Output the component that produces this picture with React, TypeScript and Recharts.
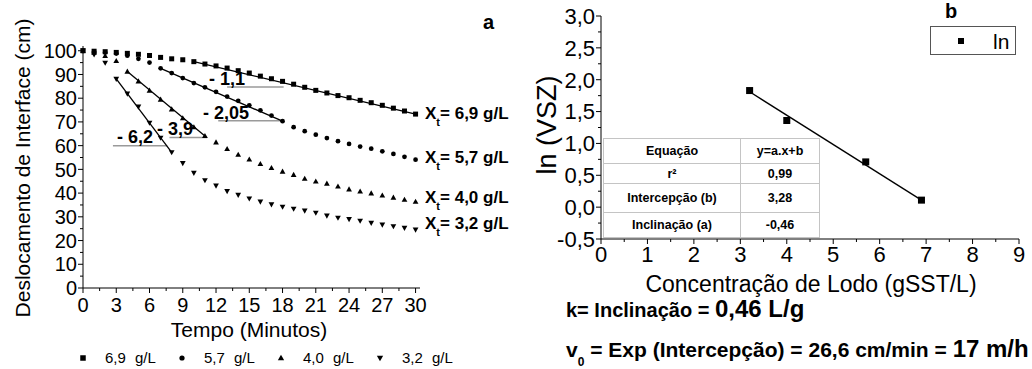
import React from "react";
import { ComposedChart, Scatter, Line, XAxis, YAxis, ReferenceLine } from "recharts";

// ---- panel a: interface displacement (cm) vs time (min)
const minutes = [0, 1, 2, 3, 4, 5, 6, 7, 8, 9, 10, 11, 12, 13, 14, 15, 16, 17, 18, 19, 20, 21, 22, 23, 24, 25, 26, 27, 28, 29, 30];
const disp69 = [100, 99.8, 99.6, 99.3, 98.9, 98.5, 98.0, 97.2, 96.6, 96.2, 95.4, 94.4, 93.6, 92.7, 91.6, 90.6, 89.3, 88.2, 87.1, 85.9, 84.6, 83.3, 82.2, 81.1, 80.2, 79.1, 78.1, 77.0, 75.8, 74.6, 73.3];
const disp57 = [100, 99.7, 99.3, 98.8, 97.9, 96.6, 95.0, 92.6, 90.6, 88.5, 86.4, 84.6, 82.7, 80.7, 78.9, 77.0, 74.9, 72.7, 70.3, 67.8, 66.1, 64.6, 63.2, 61.9, 60.7, 59.6, 58.7, 57.6, 56.5, 55.3, 54.1];
const disp40 = [100, 99.2, 97.8, 95.7, 91.2, 87.1, 83.2, 79.4, 75.3, 71.6, 67.8, 64.1, 61.4, 58.6, 56.2, 54.2, 52.3, 50.6, 49.1, 47.7, 46.1, 44.9, 44.0, 42.8, 41.6, 40.7, 39.9, 39.0, 38.1, 37.2, 36.4];
const disp32 = [100, 98.4, 94.9, 88.1, 81.9, 76.4, 69.6, 63.3, 57.2, 52.6, 48.5, 45.4, 43.1, 40.8, 39.2, 37.7, 36.4, 35.2, 34.2, 33.4, 32.6, 31.7, 30.5, 29.6, 29.0, 28.3, 27.4, 26.7, 26.0, 25.3, 24.6];

const seriesNames = ["6,9 g/L", "5,7 g/L", "4,0 g/L", "3,2 g/L"];
const seriesMarkers = ["square", "circle", "up", "down"];
// linear stretch of each curve (start / end minute)
const fitFrom = [10, 7, 4, 3];
const fitTo = [30, 18, 11, 8];
// slope annotations
const slopeLabels = ["- 1,1", "- 2,05", "- 3,9", "- 6,2"];
const slopeLineY = [84.7, 70.5, 63.4, 60];
const slopeLineFrom = [13, 12.2, 7.8, 2.7];
const slopeLineTo = [18.1, 17.9, 11.2, 7.6];

const ticksAx = [0, 1.5, 3, 4.5, 6, 7.5, 9, 10.5, 12, 13.5, 15, 16.5, 18, 19.5, 21, 22.5, 24, 25.5, 27, 28.5, 30];
const ticksAy = [0, 5, 10, 15, 20, 25, 30, 35, 40, 45, 50, 55, 60, 65, 70, 75, 80, 85, 90, 95, 100];

// ---- panel b: ln(VSZ) vs sludge concentration
const conc = [3.2, 4.0, 5.7, 6.9];
const lnVsz = [1.83, 1.36, 0.71, 0.11];
const fitConc = [3.2, 6.9];
const fitLn = [1.81, 0.11];
const ticksBx = [0, 0.5, 1, 1.5, 2, 2.5, 3, 3.5, 4, 4.5, 5, 5.5, 6, 6.5, 7, 7.5, 8, 8.5, 9];
const ticksBy = [-0.5, -0.25, 0, 0.25, 0.5, 0.75, 1, 1.25, 1.5, 1.75, 2, 2.25, 2.5, 2.75, 3];

const tableRows = [
  ["Equação", "y=a.x+b"],
  ["r²", "0,99"],
  ["Intercepção (b)", "3,28"],
  ["Inclinação (a)", "-0,46"],
];

const FONT = "'Liberation Sans', Arial, sans-serif";

const allDisp = [disp69, disp57, disp40, disp32];
const dataA = allDisp.map((s) => minutes.map((t, i) => ({ t, v: s[i] })));
const fitsA = allDisp.map((s, k) => [
  { t: fitFrom[k], v: s[minutes.indexOf(fitFrom[k])] },
  { t: fitTo[k], v: s[minutes.indexOf(fitTo[k])] },
]);
const dataB = conc.map((c, i) => ({ c, l: lnVsz[i] }));
const fitB = fitConc.map((c, i) => ({ c, l: fitLn[i] }));

function Marker({ kind, cx, cy, size = 5 }: { kind: string; cx: number; cy: number; size?: number }) {
  const h = size / 2;
  if (kind === "square") return <rect x={cx - h} y={cy - h} width={size} height={size} fill="#000" />;
  if (kind === "circle") return <circle cx={cx} cy={cy} r={h * 0.95} fill="#000" />;
  if (kind === "up")
    return <path d={`M${cx},${cy - h * 1.2}L${cx + h * 1.15},${cy + h * 0.85}L${cx - h * 1.15},${cy + h * 0.85}Z`} fill="#000" />;
  return <path d={`M${cx},${cy + h * 1.2}L${cx + h * 1.15},${cy - h * 0.85}L${cx - h * 1.15},${cy - h * 0.85}Z`} fill="#000" />;
}

const comma = (v: number, d: number) => v.toFixed(d).replace(".", ",");

function makeYTick(isMajor: (v: number) => boolean, fmt: (v: number) => string, fs: number) {
  return (p: any) => {
    const major = isMajor(p.payload.value);
    return (
      <g>
        <line x1={p.x - (major ? 5 : 3)} x2={p.x} y1={p.y} y2={p.y} stroke="#000" />
        {major && (
          <text x={p.x - 6} y={p.y} dy="0.36em" textAnchor="end" fontSize={fs} fontFamily={FONT} fill="#000">
            {fmt(p.payload.value)}
          </text>
        )}
      </g>
    );
  };
}

function makeXTick(isMajor: (v: number) => boolean, fmt: (v: number) => string, fs: number, gap: number) {
  return (p: any) => {
    const major = isMajor(p.payload.value);
    return (
      <g>
        <line x1={p.x} x2={p.x} y1={p.y} y2={p.y + (major ? 5 : 3)} stroke="#000" />
        {major && (
          <text x={p.x} y={p.y + gap} dy="0.8em" textAnchor="middle" fontSize={fs} fontFamily={FONT} fill="#000">
            {fmt(p.payload.value)}
          </text>
        )}
      </g>
    );
  };
}

const abs = (l: number, t: number, extra: React.CSSProperties = {}): React.CSSProperties => ({
  position: "absolute",
  left: l,
  top: t,
  whiteSpace: "nowrap",
  lineHeight: 1,
  ...extra,
});

export default function App() {
  const xLabelsY = [114, 158, 198, 224];
  const slopeLabelPos = [
    [209, 70],
    [203, 104],
    [157, 120],
    [117, 128],
  ];
  return (
    <div style={{ position: "absolute", left: 0, top: 0, width: 1032, height: 369, background: "#fff", fontFamily: FONT, color: "#000", overflow: "hidden" }}>
      {/* panel a */}
      <div style={{ position: "absolute", left: 0, top: 0 }}>
        <ComposedChart width={520} height={369} margin={{ top: 46, right: 100, bottom: 51, left: 23 }}>
          <XAxis
            type="number"
            dataKey="t"
            domain={[0, 30.4]}
            ticks={ticksAx}
            interval={0}
            tickSize={0}
            tickMargin={0}
            tickLine={false}
            axisLine={{ stroke: "#000" }}
            height={30}
            tick={makeXTick((v) => v % 3 === 0, (v) => String(v), 20, 8)}
          />
          <YAxis
            type="number"
            dataKey="v"
            domain={[0, 102]}
            ticks={ticksAy}
            interval={0}
            tickSize={0}
            tickMargin={0}
            tickLine={false}
            axisLine={{ stroke: "#000" }}
            width={60}
            tick={makeYTick((v) => v % 10 === 0, (v) => String(v), 20)}
          />
          {slopeLineY.map((y, k) => (
            <ReferenceLine
              key={"s" + k}
              segment={[
                { x: slopeLineFrom[k], y },
                { x: slopeLineTo[k], y },
              ]}
              stroke="#9a9a9a"
              strokeWidth={1.5}
            />
          ))}
          {fitsA.map((f, k) => (
            <Line key={"f" + k} data={f} dataKey="v" stroke="#000" strokeWidth={1.3} dot={false} isAnimationActive={false} />
          ))}
          {dataA.map((d, k) => (
            <Scatter
              key={"d" + k}
              name={seriesNames[k]}
              data={d}
              isAnimationActive={false}
              shape={(p: any) => <Marker kind={seriesMarkers[k]} cx={p.cx} cy={p.cy} size={5} />}
            />
          ))}
        </ComposedChart>
      </div>

      <div style={abs(483, 12, { fontWeight: "bold", fontSize: 20 })}>a</div>
      {seriesNames.map((n, k) => (
        <div key={"xl" + k} style={abs(425, xLabelsY[k] - 9, { fontWeight: "bold", fontSize: 17 })}>
          X<sub style={{ fontSize: 11, verticalAlign: -7 }}>t</sub>= {n}
        </div>
      ))}
      {slopeLabels.map((s, k) => (
        <div key={"sl" + k} style={abs(slopeLabelPos[k][0], slopeLabelPos[k][1], { fontWeight: "bold", fontSize: 18 })}>
          {s}
        </div>
      ))}
      <div style={abs(22, 168, { fontSize: 21, transform: "translate(-50%, -50%) rotate(-90deg)" })}>
        Deslocamento de Interface (cm)
      </div>
      <div style={abs(249, 329, { fontSize: 21, transform: "translate(-50%, -50%)" })}>Tempo (Minutos)</div>
      {seriesNames.map((n, k) => (
        <div key={"lg" + k} style={abs(76 + k * 99, 350, { fontSize: 15, display: "flex", alignItems: "center" })}>
          <svg width={14} height={14}>
            <Marker kind={seriesMarkers[k]} cx={7} cy={7} size={5.5} />
          </svg>
          <span style={{ marginLeft: 15, wordSpacing: 5 }}>{n}</span>
        </div>
      ))}

      {/* panel b */}
      <div style={{ position: "absolute", left: 520, top: 0 }}>
        <ComposedChart width={512} height={369} margin={{ top: 16, right: 13, bottom: 100, left: 21 }}>
          <XAxis
            type="number"
            dataKey="c"
            domain={[0, 9]}
            ticks={ticksBx}
            interval={0}
            tickSize={0}
            tickMargin={0}
            tickLine={false}
            axisLine={{ stroke: "#000" }}
            height={30}
            tick={makeXTick((v) => Number.isInteger(v), (v) => String(v), 22, 5)}
          />
          <YAxis
            type="number"
            dataKey="l"
            domain={[-0.5, 3]}
            ticks={ticksBy}
            interval={0}
            tickSize={0}
            tickMargin={0}
            tickLine={false}
            axisLine={{ stroke: "#000" }}
            width={60}
            tick={makeYTick((v) => Math.abs(v * 2 - Math.round(v * 2)) < 1e-6, (v) => comma(v, 1), 22)}
          />
          <Line data={fitB} dataKey="l" stroke="#000" strokeWidth={1.3} dot={false} isAnimationActive={false} />
          <Scatter
            name="ln"
            data={dataB}
            isAnimationActive={false}
            shape={(p: any) => <Marker kind="square" cx={p.cx} cy={p.cy} size={7} />}
          />
        </ComposedChart>
      </div>

      <table
        style={{
          position: "absolute",
          left: 603,
          top: 138,
          width: 217,
          height: 99,
          borderCollapse: "collapse",
          background: "#fff",
          fontFamily: FONT,
          fontWeight: "bold",
          fontSize: 12.5,
          border: "1px solid #7a7a7a",
        }}
      >
        <tbody>
          {tableRows.map((r, i) => (
            <tr key={i} style={{ height: [25, 20, 29, 25][i] }}>
              <td style={{ width: 136, border: "1px solid #c4c4c4", textAlign: "center", padding: 0 }}>{r[0]}</td>
              <td style={{ border: "1px solid #c4c4c4", textAlign: "center", padding: 0 }}>{r[1]}</td>
            </tr>
          ))}
        </tbody>
      </table>

      <div style={abs(945, 1, { fontWeight: "bold", fontSize: 20 })}>b</div>
      <div style={{ position: "absolute", left: 930, top: 26, width: 86, height: 29, border: "1px solid #555", boxSizing: "border-box" }}>
        <svg width={84} height={27} style={{ position: "absolute", left: 0, top: 0 }}>
          <Marker kind="square" cx={30} cy={14} size={6} />
        </svg>
        <div style={abs(62, 4, { fontSize: 21 })}>ln</div>
      </div>
      <div style={abs(547, 125, { fontSize: 27, transform: "translate(-50%, -50%) rotate(-90deg)" })}>ln (VSZ)</div>
      <div style={abs(811, 284, { fontSize: 23, transform: "translate(-50%, -50%)" })}>Concentração de Lodo (gSST/L)</div>

      <div style={abs(566, 297, { fontWeight: "bold", fontSize: 20 })}>
        k= Inclinação = <span style={{ fontSize: 24 }}>0,46 L/g</span>
      </div>
      <div style={abs(566, 337, { fontWeight: "bold", fontSize: 21 })}>
        v<sub style={{ fontSize: 12, verticalAlign: -9 }}>0</sub> = Exp (Intercepção) = 26,6 cm/min ={" "}
        <span style={{ fontSize: 24 }}>17 m/h</span>
      </div>
    </div>
  );
}
